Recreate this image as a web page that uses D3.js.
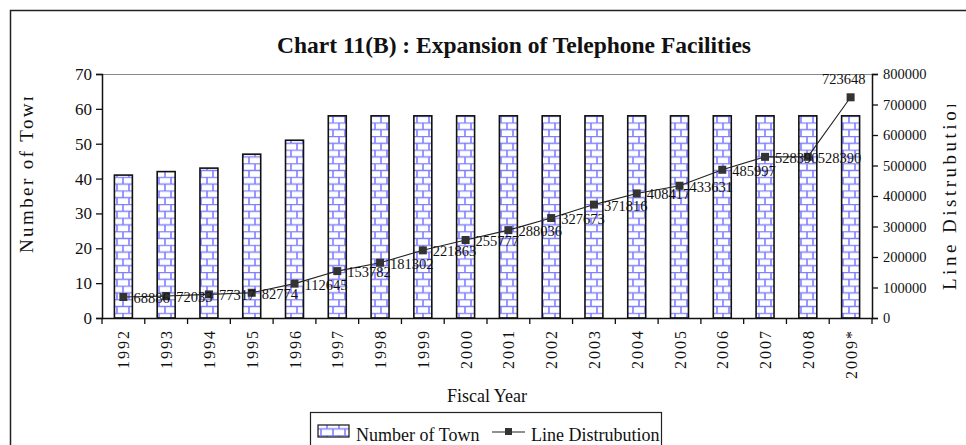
<html>
<head>
<script src="https://cdnjs.cloudflare.com/ajax/libs/d3/7.8.5/d3.min.js"></script>
<style>
body { margin: 0; background: white; }
svg text { font-family: "Liberation Serif", "Times New Roman", serif; fill: #111; }
</style>
</head>
<body>
<svg id="canvas" width="966" height="445"></svg>
<script>
// chart data
var years = ["1992","1993","1994","1995","1996","1997","1998","1999","2000","2001","2002","2003","2004","2005","2006","2007","2008","2009*"];
var towns = [41, 42, 43, 47, 51, 58, 58, 58, 58, 58, 58, 58, 58, 58, 58, 58, 58, 58];
var lines = [68886, 72033, 77317, 82774, 112645, 153782, 181302, 221863, 255777, 288036, 327673, 371816, 408417, 433631, 485997, 528390, 528390, 723648];
var leftTicks = [0, 10, 20, 30, 40, 50, 60, 70];
var rightTicks = [0, 100000, 200000, 300000, 400000, 500000, 600000, 700000, 800000];

var svg = d3.select("#canvas");
var plot = {left: 102, right: 872, top: 74, bottom: 318};

// brick fill
var defs = svg.append("defs");
var pat = defs.append("pattern")
    .attr("id", "brick")
    .attr("patternUnits", "userSpaceOnUse")
    .attr("width", 12).attr("height", 13.6)
    .attr("x", 0).attr("y", 0);
pat.append("rect").attr("width", 12).attr("height", 13.6).attr("fill", "white");
pat.append("path")
    .attr("d", "M0,0.5H12M0,7.3H12M3,0.5V7.3M9,7.3V13.6")
    .attr("stroke", "#8080ff").attr("stroke-width", 1.6).attr("fill", "none");

defs.append("clipPath").attr("id", "clipL")
  .append("rect").attr("x", 0).attr("y", 97).attr("width", 60).attr("height", 300);
defs.append("clipPath").attr("id", "clipR")
  .append("rect").attr("x", 920).attr("y", 105).attr("width", 46).attr("height", 300);

// outer frame
svg.append("rect")
    .attr("x", 10.5).attr("y", 10.5).attr("width", 1010).attr("height", 500)
    .attr("fill", "none").attr("stroke", "#222").attr("stroke-width", 1.5);

var x = d3.scaleBand().domain(years)
    .range([plot.left, plot.right])
    .paddingInner(0.58).paddingOuter(0.29);
var yL = d3.scaleLinear().domain([0, 70]).range([plot.bottom, plot.top]);
var yR = d3.scaleLinear().domain([0, 800000]).range([plot.bottom, plot.top]);

// plot top border
svg.append("line")
    .attr("x1", plot.left).attr("x2", plot.right)
    .attr("y1", plot.top + 0.5).attr("y2", plot.top + 0.5)
    .attr("stroke", "#888").attr("stroke-width", 1.2);

// bars
svg.selectAll("rect.bar").data(towns).enter().append("rect")
    .attr("class", "bar")
    .attr("x", (d, i) => x(years[i]))
    .attr("y", d => yL(d))
    .attr("width", x.bandwidth())
    .attr("height", d => yL(0) - yL(d))
    .attr("fill", "url(#brick)")
    .attr("stroke", "#111").attr("stroke-width", 1.6);

// axes
var axL = svg.append("g").attr("transform", "translate(" + plot.left + ",0)")
    .call(d3.axisLeft(yL).tickValues(leftTicks).tickSize(6).tickPadding(4));
var axR = svg.append("g").attr("transform", "translate(" + plot.right + ",0)")
    .call(d3.axisRight(yR).tickValues(rightTicks).tickFormat(d3.format("d")).tickSize(6).tickPadding(5));
var axB = svg.append("g").attr("transform", "translate(0," + plot.bottom + ")")
    .call(d3.axisBottom(x).tickSize(0).tickFormat(""));

[axL, axR, axB].forEach(function(g) {
  g.selectAll("path.domain").attr("stroke", "#111").attr("stroke-width", 1.5);
  g.selectAll(".tick line").attr("stroke", "#111").attr("stroke-width", 1.3);
});
axL.selectAll("text").style("font-family", "Liberation Serif").style("font-size", "17px").attr("fill", "#111");
axR.selectAll("text").style("font-family", "Liberation Serif").style("font-size", "14.5px").attr("fill", "#111");

// x tick marks at band edges
var step = x.step();
var edges = years.map(d => x(d) + x.bandwidth() / 2 - step / 2).concat([plot.right]);
svg.selectAll("line.xt").data(edges).enter().append("line")
    .attr("x1", d => d).attr("x2", d => d)
    .attr("y1", plot.bottom).attr("y2", plot.bottom + 6)
    .attr("stroke", "#111").attr("stroke-width", 1.3);

// x labels
svg.selectAll("text.xl").data(years).enter().append("text")
    .attr("class", "xl")
    .attr("transform", d => "translate(" + (x(d) + x.bandwidth() / 2 + 6) + ",329) rotate(-90)")
    .attr("text-anchor", "end")
    .style("font-size", "16px")
    .style("letter-spacing", "2px")
    .text(d => d);

// line series
var cx = (d, i) => x(years[i]) + x.bandwidth() / 2;
var lineGen = d3.line().x(cx).y(d => yR(d));
svg.append("path").datum(lines)
    .attr("d", lineGen)
    .attr("fill", "none").attr("stroke", "#222").attr("stroke-width", 1.1);
svg.selectAll("rect.mk").data(lines).enter().append("rect")
    .attr("x", (d, i) => cx(d, i) - 4)
    .attr("y", d => yR(d) - 4)
    .attr("width", 8).attr("height", 8)
    .attr("fill", "#333");
svg.selectAll("text.dl").data(lines).enter().append("text")
    .attr("x", (d, i) => i == lines.length - 1 ? cx(d, i) + 15 : cx(d, i) + 10)
    .attr("y", (d, i) => i == lines.length - 1 ? yR(d) - 13 : yR(d) + 6)
    .attr("text-anchor", (d, i) => i == lines.length - 1 ? "end" : "start")
    .style("font-size", "14.5px")
    .text(d => d);

// title
svg.append("text")
    .attr("x", 514).attr("y", 53)
    .attr("text-anchor", "middle")
    .style("font-size", "23.5px").style("font-weight", "bold")
    .text("Chart 11(B) : Expansion of Telephone Facilities");

// axis titles
svg.append("text")
    .attr("x", 487).attr("y", 402)
    .attr("text-anchor", "middle")
    .style("font-size", "18px")
    .text("Fiscal Year");
svg.append("g").attr("clip-path", "url(#clipL)")
  .append("text")
    .attr("transform", "translate(33,253) rotate(-90)")
    .style("font-size", "19px").style("letter-spacing", "2.4px")
    .text("Number of Town");
svg.append("g").attr("clip-path", "url(#clipR)")
  .append("text")
    .attr("transform", "translate(956,290) rotate(-90)")
    .style("font-size", "19px").style("letter-spacing", "3.5px")
    .text("Line Distrubution");

// legend
var lg = svg.append("g");
lg.append("rect")
    .attr("x", 310.5).attr("y", 412.5).attr("width", 351).attr("height", 60)
    .attr("fill", "white").attr("stroke", "#222").attr("stroke-width", 1.2);
lg.append("rect")
    .attr("x", 318).attr("y", 425).attr("width", 31).attr("height", 12)
    .attr("fill", "url(#brick)").attr("stroke", "#111").attr("stroke-width", 1.2);
lg.append("text").attr("x", 356).attr("y", 441).style("font-size", "18px").text("Number of Town");
lg.append("line").attr("x1", 492).attr("x2", 525).attr("y1", 432).attr("y2", 432)
    .attr("stroke", "#222").attr("stroke-width", 1.2);
lg.append("rect").attr("x", 505).attr("y", 428).attr("width", 7).attr("height", 7).attr("fill", "#333");
lg.append("text").attr("x", 531).attr("y", 441).style("font-size", "18px").text("Line Distrubution");
</script>
</body>
</html>
